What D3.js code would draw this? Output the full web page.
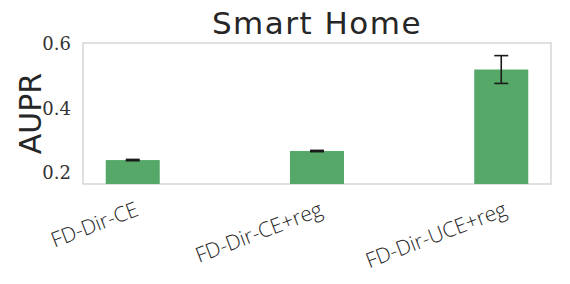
<!DOCTYPE html>
<html>
<head>
<meta charset="utf-8">
<script src="https://cdn.jsdelivr.net/npm/d3@7"></script>
<style>
  body { margin: 0; background: #fff; }
</style>
</head>
<body>
<div id="chart"></div>
<script>
// data
const methods = ["FD-Dir-CE", "FD-Dir-CE+reg", "FD-Dir-UCE+reg"];
const aupr = [0.240, 0.268, 0.520];
const auprErr = [0.002, 0.002, 0.043];
const yTicks = [0.2, 0.4, 0.6];

const width = 570, height = 284;
const margin = { top: 43, right: 19, bottom: 100, left: 83 };

const svg = d3.select("#chart").append("svg")
    .attr("width", width)
    .attr("height", height);

const x = d3.scalePoint()
    .domain(methods)
    .range([margin.left, width - margin.right])
    .padding(0.27);

const y = d3.scaleLinear()
    .domain([0.166, 0.602])
    .range([height - margin.bottom, margin.top]);

const barW = 54;

// frame
svg.append("rect")
    .attr("x", margin.left)
    .attr("y", margin.top)
    .attr("width", width - margin.left - margin.right)
    .attr("height", height - margin.top - margin.bottom)
    .attr("fill", "none")
    .attr("stroke", "#cccccc")
    .attr("stroke-width", 1.2);

// bars
svg.append("g")
    .selectAll("rect")
    .data(methods)
    .join("rect")
    .attr("x", d => x(d) - barW / 2)
    .attr("y", (d, i) => y(aupr[i]))
    .attr("width", barW)
    .attr("height", (d, i) => y(y.domain()[0]) - y(aupr[i]))
    .attr("fill", "#55a868");

// error bars
const err = svg.append("g")
    .attr("stroke", "#1a1a1a")
    .attr("stroke-width", 1.6);
methods.forEach((m, i) => {
    const cx = x(m);
    const lo = y(aupr[i] - auprErr[i]), hi = y(aupr[i] + auprErr[i]);
    err.append("line").attr("x1", cx).attr("x2", cx).attr("y1", lo).attr("y2", hi);
    err.append("line").attr("x1", cx - 7).attr("x2", cx + 7).attr("y1", lo).attr("y2", lo);
    err.append("line").attr("x1", cx - 7).attr("x2", cx + 7).attr("y1", hi).attr("y2", hi);
});

// y axis
const yAxis = svg.append("g")
    .attr("transform", `translate(${margin.left},0)`)
    .call(d3.axisLeft(y).tickValues(yTicks).tickFormat(d3.format(".1f")).tickSize(0).tickPadding(12));
yAxis.select(".domain").remove();
yAxis.selectAll("text")
    .attr("font-family", "'DejaVu Serif', serif")
    .attr("font-size", 18)
    .attr("fill", "#333333");

// x labels
svg.append("g")
    .selectAll("text")
    .data(methods)
    .join("text")
    .attr("transform", d => `translate(${x(d) + 7},${height - margin.bottom + 31}) rotate(-21)`)
    .attr("text-anchor", "end")
    .attr("font-family", "'Open Sans', sans-serif")
    .attr("font-weight", 300)
    .attr("font-size", 21)
    .attr("fill", "#262626")
    .text(d => d);

// y label
svg.append("text")
    .attr("transform", `translate(41,${(margin.top + height - margin.bottom) / 2}) rotate(-90)`)
    .attr("text-anchor", "middle")
    .attr("font-family", "'DejaVu Sans', sans-serif")
    .attr("font-size", 30)
    .attr("fill", "#262626")
    .text("AUPR");

// title
svg.append("text")
    .attr("x", (margin.left + width - margin.right) / 2)
    .attr("y", 34)
    .attr("text-anchor", "middle")
    .attr("font-family", "'DejaVu Sans', sans-serif")
    .attr("font-size", 31)
    .attr("letter-spacing", 1.5)
    .attr("fill", "#262626")
    .text("Smart Home");
</script>
</body>
</html>
